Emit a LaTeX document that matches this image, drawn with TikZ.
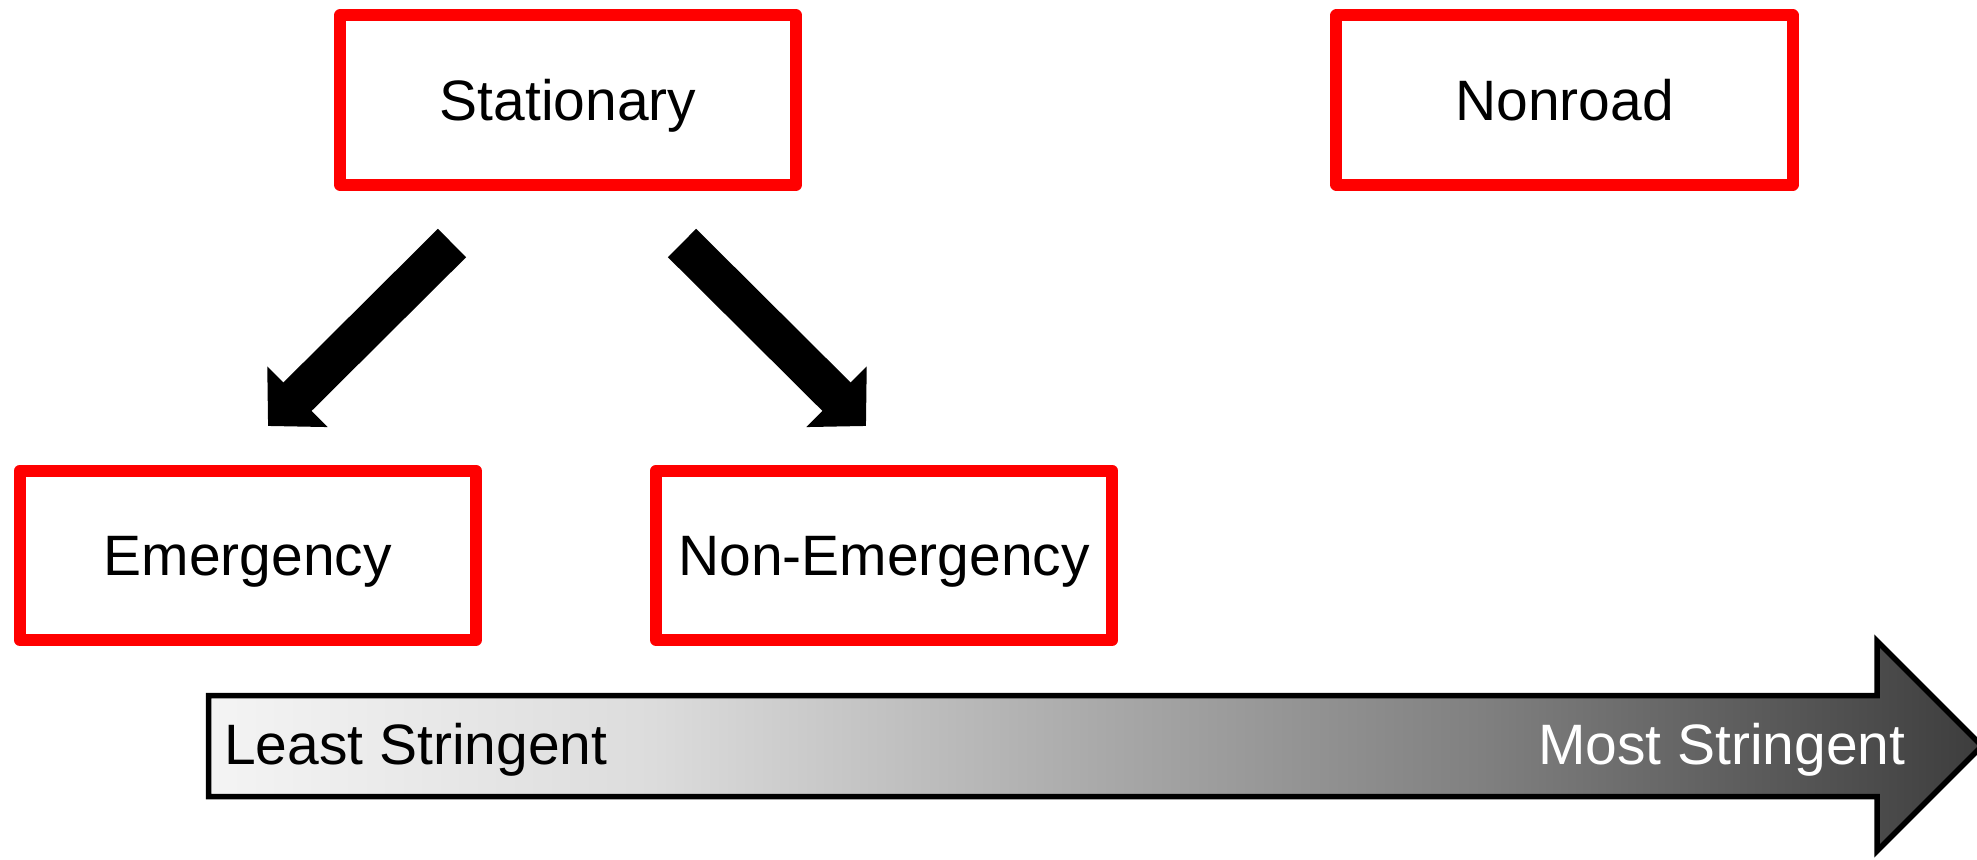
\documentclass[tikz,border=0pt]{standalone}
\usepackage{fontspec}
\setmainfont{Liberation Sans}
\usepackage{tikz}
\usetikzlibrary{arrows.meta}
\usetikzlibrary{positioning}
\definecolor{sA}{gray}{0.957}
\definecolor{sB}{gray}{0.863}
\definecolor{sC}{gray}{0.659}
\definecolor{sD}{gray}{0.502}
\definecolor{sE}{gray}{0.282}
\definecolor{sF}{gray}{0.239}
\pgfdeclarehorizontalshading{stringency}{100bp}{color(0bp)=(sA); color(25bp)=(sA);
  color(37.5bp)=(sB); color(50.4bp)=(sC); color(60.9bp)=(sD); color(72.7bp)=(sE);
  color(75bp)=(sF); color(100bp)=(sF)}
\tikzstyle{cat} = [rectangle, draw=red, line width=0.12cm, line join=round,
    minimum width=4.56cm, minimum height=1.69cm, inner sep=0pt,
    text height=11.6pt, text depth=0pt, font=\fontsize{16.2}{19.4}\selectfont]
\tikzstyle{fat} = [draw=black, line width=0.40cm,
    -{Triangle[length=0.415cm,width=0.83cm]}]
\tikzstyle{ruler} = [draw=black, line width=0.055cm, line join=miter,
    shading=stringency]
\tikzstyle{lbl} = [inner sep=0pt, font=\fontsize{16.2}{19.4}\selectfont]

\begin{document}
\begin{tikzpicture}[x=0.01cm,y=0.01cm,node distance=1.5cm]
  \useasboundingbox (0,0) rectangle (1977,-859);

  \node[cat]   (stat)     at (568,-100)                      {Stationary};
  \node[cat]   (nonroad)  [right=5.28cm of stat]             {Nonroad};
  \node[cat]   (emerg)    [below=2.74cm of stat,xshift=-3.2cm] {Emergency};
  \node[cat]   (nonemerg) [right=1.68cm of emerg]            {Non-Emergency};

  \coordinate (t1) at (452,-243);
  \coordinate (h1) at (268,-426);
  \coordinate (t2) at (682,-243);
  \coordinate (h2) at (866,-426);
  \path (t1) edge[fat] (h1)
        (t2) edge[fat] (h2);

  \shadedraw[ruler] (208.5,-695.5) -- (1877,-695.5) -- (1877,-641)
    -- (1982,-746) -- (1877,-851) -- (1877,-796.5) -- (208.5,-796.5) -- cycle;
  \node[lbl,anchor=base west]            (least) at (223.5,-764) {Least Stringent};
  \node[lbl,anchor=base east,text=white] (most)  at (1906,-764)  {Most Stringent};
\end{tikzpicture}
\end{document}
